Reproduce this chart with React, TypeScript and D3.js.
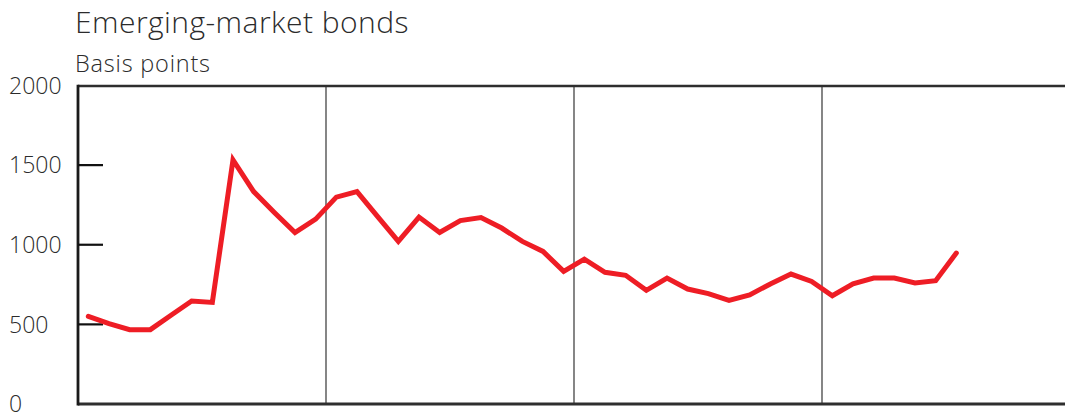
import React from "react";
import * as d3 from "d3";

// Monthly spread, basis points, starting January of the first year shown
const spread: number[] = [
  550, 505, 467, 467, 557, 647, 638, 1533, 1334, 1203, 1077, 1161,
  1299, 1334, 1177, 1021, 1174, 1077, 1152, 1171, 1105, 1021, 958, 833,
  910, 827, 808, 714, 791, 722, 693, 651, 685, 754, 816, 770,
  680, 755, 791, 791, 760, 774, 948,
];

const yTicks: number[] = [0, 500, 1000, 1500, 2000];
const yearBreaks: number[] = [12, 24, 36];
const title = "Emerging-market bonds";
const subtitle = "Basis points";

const W = 1065;
const H = 412;
const left = 78;
const top = 86;
const bottom = 404;
const yearWidth = 248;

const font = "'Open Sans', 'Helvetica Neue', Helvetica, Arial, sans-serif";

export default function App() {
  const x = d3.scaleLinear().domain([0, 48]).range([left, left + yearWidth * 4]);
  const y = d3.scaleLinear().domain([0, 2000]).range([bottom, top - 0.5]);

  const line = d3
    .line<number>()
    .x((_, i) => x(i + 0.5))
    .y((d) => y(d))
    .curve(d3.curveLinear);

  return (
    <svg
      width={W}
      height={H}
      style={{ position: "absolute", left: 0, top: 0, background: "#fff" }}
    >
      <text
        x={75}
        y={33}
        fontFamily={font}
        fontWeight={300}
        fontSize={30}
        letterSpacing={0.45}
        fill="#2b2b2b"
      >
        {title}
      </text>
      <text
        x={75}
        y={71.5}
        fontFamily={font}
        fontWeight={300}
        fontSize={23.5}
        letterSpacing={0.8}
        fill="#2b2b2b"
      >
        {subtitle}
      </text>

      {/* year separators */}
      {yearBreaks.map((m) => (
        <line
          key={m}
          x1={x(m)}
          x2={x(m)}
          y1={top}
          y2={bottom}
          stroke="#444"
          strokeWidth={1.3}
        />
      ))}

      {/* frame */}
      <line x1={left} x2={W} y1={top} y2={top} stroke="#2e2e2e" strokeWidth={2.5} />
      <line x1={left} x2={W} y1={bottom} y2={bottom} stroke="#2e2e2e" strokeWidth={2.8} />
      <line x1={left} x2={left} y1={top - 1.2} y2={bottom + 1.4} stroke="#1a1a1a" strokeWidth={2.8} />

      {/* y ticks and labels */}
      {yTicks.map((t) => (
        <g key={t}>
          {t > 0 && t < 2000 && (
            <line x1={left} x2={103} y1={y(t)} y2={y(t)} stroke="#111" strokeWidth={2.2} />
          )}
          <text
            x={9}
            y={y(t)}
            dy="0.36em"
            fontFamily={font}
            fontWeight={300}
            fontSize={23}
            fill="#2b2b2b"
          >
            {t}
          </text>
        </g>
      ))}

      <path
        d={line(spread) ?? ""}
        fill="none"
        stroke="#ee1d25"
        strokeWidth={5}
        strokeLinejoin="miter"
        strokeLinecap="round"
      />
    </svg>
  );
}
